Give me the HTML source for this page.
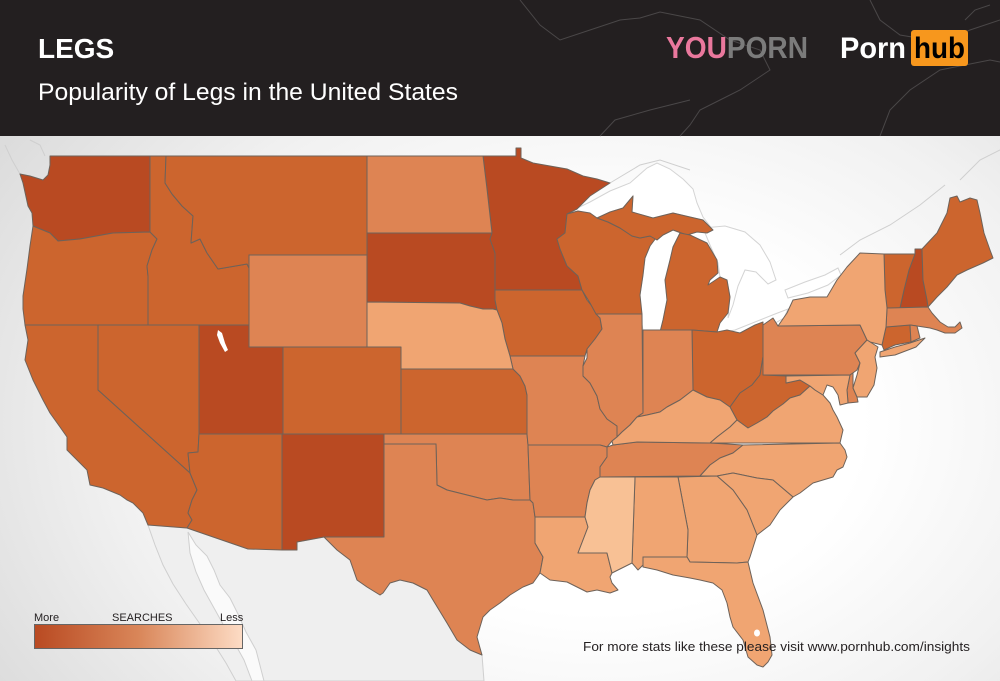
<!DOCTYPE html>
<html><head><meta charset="utf-8"><style>
html,body{margin:0;padding:0;}
body{width:1000px;height:681px;overflow:hidden;background:#fff;font-family:"Liberation Sans",sans-serif;}
#wrap{position:relative;width:1000px;height:681px;}
#map{position:absolute;left:0;top:0;width:1000px;height:681px;background:radial-gradient(ellipse 75% 80% at 60% 62%,#ffffff 35%,#f1f1f1 65%,#d8d8d8 100%);}
</style></head><body><div id="wrap"><div id="map"></div>
<svg style="position:absolute;left:0;top:0" width="1000" height="681" viewBox="0 0 1000 681" xmlns="http://www.w3.org/2000/svg">
<g fill="none" stroke="#cfcfcf" stroke-width="1">
<path fill="#efefef" d="M148,525 L187,528 L248,549 L283,549 L297,550 L297,542 L324,537 L337,550 L350,560 L357,580 L367,587 L380,595 L390,583 L400,580 L413,583 L427,590 L433,600 L447,623 L457,640 L470,650 L482,655 L484,681 L236,681 L226,663 L214,644 L200,624 L186,604 L173,584 L163,565 L155,545 Z"/>
<path fill="#fafafa" d="M188,532 L196,545 L207,556 L214,570 L220,585 L230,598 L238,614 L246,632 L256,650 L264,681 L252,681 L244,660 L234,642 L224,626 L214,608 L204,590 L196,572 L190,553 Z"/>
<path d="M20,174 L12,160 L5,145 M45,156 L40,145 L30,140 M610,183 L640,165 L660,160 L690,170 M840,255 L860,240 L890,225 L920,205 L945,185 M960,180 L980,160 L1000,150"/>
</g>
<g fill="#ffffff" stroke="#d4d4d4" stroke-width="1">
<path d="M567,213 L590,202 L610,191 L630,183 L647,168 L657,163 L670,169 L683,179 L693,189 L697,203 L703,217 L713,230 L703,220 L690,217 L673,213 L653,218 L632,212 L633,196 L623,208 L610,212 L597,218 L578,211 Z"/>
<path d="M640,238 L650,236 L657,240 L663,235 L673,230 L680,233 L673,247 L670,260 L665,280 L667,300 L663,320 L660,332 L650,334 L643,330 L640,314 L640,295 L643,275 L645,258 L650,246 Z"/>
<path d="M703,228 L725,226 L745,232 L760,245 L770,262 L776,280 L768,284 L756,272 L745,270 L738,286 L733,305 L728,318 L730,297 L727,280 L720,277 L718,263 L710,245 Z"/>
<path d="M718,333 L735,330 L755,322 L775,314 L788,309 L784,318 L770,326 L750,334 L733,338 Z"/>
<path d="M785,290 L805,282 L825,275 L838,268 L841,275 L828,285 L808,293 L788,298 Z"/>
</g>
<g stroke="#6e6259" stroke-width="1" stroke-linejoin="round">
<!-- dark -->
<g fill="#b94a22">
<path d="M50,156 L150,156 L150,232 L113,233 L80,239 L58,241 L50,233 L33,226 L32,213 L28,206 L23,183 L20,174 L30,176 L43,180 L48,175 L50,165 Z"/>
<path d="M199,325 L249,325 L249,347 L283,347 L283,434 L199,434 Z"/>
<path d="M367,233 L492,233 L490,239 L495,253 L495,300 L497,310 L493,309 L483,309 L470,306 L460,303 L367,302 Z"/>
<path d="M483,156 L516,156 L516,148 L521,148 L521,158 L533,163 L550,166 L567,169 L583,176 L597,179 L610,183 L590,196 L577,209 L567,214 L565,233 L557,239 L560,249 L567,266 L578,276 L582,290 L495,290 L495,253 L490,239 L492,233 L487,189 Z"/>
<path d="M282,434 L384,434 L384,537 L324,537 L297,542 L297,550 L282,550 Z"/>
<path d="M915,249 L922,249 L923,280 L927,300 L928,307 L900,308 L904,290 L909,270 L915,254 Z"/>
</g>
<!-- medium dark -->
<g fill="#cc652e">
<path d="M33,226 L50,233 L58,241 L80,239 L113,233 L150,232 L157,239 L152,250 L147,266 L148,276 L148,325 L25,325 L23,309 L23,296 L27,269 L30,246 Z"/>
<path d="M150,156 L166,156 L165,183 L172,194 L182,206 L193,216 L191,243 L200,239 L207,253 L218,269 L247,264 L249,268 L249,325 L148,325 L148,276 L147,266 L152,250 L157,239 L150,232 Z"/>
<path d="M166,156 L367,156 L367,255 L249,255 L249,268 L247,264 L218,269 L207,253 L200,239 L191,243 L193,216 L182,206 L172,194 L165,183 Z"/>
<path d="M98,325 L199,325 L199,434 L198,452 L188,453 L190,473 L98,390 Z"/>
<path d="M25,325 L98,325 L98,390 L190,473 L197,490 L192,500 L188,513 L192,520 L187,528 L148,525 L143,513 L133,503 L127,500 L120,495 L103,488 L90,485 L87,470 L80,463 L67,450 L67,437 L60,427 L50,413 L43,400 L33,380 L25,360 L28,340 Z"/>
<path d="M199,434 L282,434 L282,550 L248,549 L187,528 L192,520 L188,513 L192,500 L197,490 L190,473 L188,453 L198,452 Z"/>
<path d="M283,347 L401,347 L401,434 L283,434 Z"/>
<path d="M401,369 L513,369 L520,376 L525,386 L527,395 L527,434 L401,434 Z"/>
<path d="M495,290 L582,290 L587,300 L595,310 L600,318 L602,329 L595,339 L587,349 L585,356 L510,356 L505,339 L502,323 L497,310 L495,300 Z"/>
<path d="M567,214 L578,211 L590,213 L597,218 L608,222 L620,228 L632,236 L640,238 L650,236 L656,238 L650,246 L645,258 L643,275 L640,295 L642,314 L596,314 L590,303 L582,290 L578,276 L567,266 L560,249 L557,239 L565,233 Z"/>
<path d="M597,218 L610,212 L623,208 L633,196 L632,212 L653,218 L673,213 L690,217 L703,220 L713,230 L707,233 L697,232 L687,235 L673,230 L663,235 L657,240 L650,236 L640,238 L632,236 L620,228 L608,222 Z"/>
<path d="M680,233 L690,235 L707,243 L717,260 L718,273 L710,280 L708,285 L720,277 L727,280 L730,297 L728,313 L720,323 L717,332 L692,330 L660,332 L663,320 L667,300 L665,280 L670,260 L673,247 Z"/>
<path d="M692,330 L717,332 L727,330 L740,333 L755,325 L763,322 L763,357 L760,375 L752,385 L740,393 L730,407 L720,400 L707,397 L693,390 Z"/>
<path d="M730,407 L740,393 L752,385 L760,375 L763,357 L763,375 L786,376 L786,383 L800,380 L810,386 L800,395 L790,398 L783,404 L773,411 L767,417 L757,423 L748,428 L737,420 Z"/>
<path d="M884,254 L915,254 L909,270 L904,290 L900,308 L887,308 L885,290 Z"/>
<path d="M922,249 L937,233 L947,213 L950,198 L957,196 L960,202 L970,198 L977,200 L980,213 L984,233 L990,250 L993,258 L983,263 L967,270 L957,275 L947,287 L937,297 L928,307 L927,300 L923,280 Z"/>
<path d="M886,327 L910,325 L911,342 L895,345 L884,350 L882,345 Z"/>
</g>
<!-- medium -->
<g fill="#de8453">
<path d="M367,156 L483,156 L487,189 L492,233 L367,233 Z"/>
<path d="M249,255 L367,255 L367,347 L249,347 Z"/>
<path d="M384,434 L527,434 L528,445 L530,500 L513,500 L500,498 L487,500 L467,495 L447,490 L437,485 L436,444 L384,444 Z"/>
<path d="M384,444 L436,444 L437,485 L447,490 L467,495 L487,500 L500,498 L513,500 L530,500 L533,503 L535,517 L535,543 L543,557 L540,573 L533,583 L523,587 L510,595 L500,603 L490,610 L483,617 L480,627 L477,637 L480,648 L482,655 L470,650 L457,640 L447,623 L433,600 L427,590 L413,583 L400,580 L390,583 L383,593 L380,595 L367,587 L357,580 L350,560 L337,550 L324,537 L384,537 Z"/>
<path d="M510,356 L585,356 L583,366 L583,376 L590,383 L597,396 L600,409 L607,419 L617,426 L617,437 L612,441 L607,447 L600,445 L528,445 L527,434 L527,395 L525,386 L520,376 L513,369 Z"/>
<path d="M528,445 L600,445 L607,447 L607,457 L600,467 L600,477 L595,480 L590,490 L587,503 L585,517 L535,517 L533,503 L530,500 Z"/>
<path d="M596,314 L642,314 L643,413 L637,417 L630,425 L622,432 L617,437 L617,426 L607,419 L600,409 L597,396 L590,383 L583,376 L583,366 L587,358 L587,349 L595,339 L602,329 L600,318 Z"/>
<path d="M643,330 L692,330 L693,390 L680,400 L667,407 L660,412 L647,415 L637,417 L643,413 Z"/>
<path d="M607,447 L613,445 L637,442 L710,443 L743,445 L733,453 L720,458 L710,465 L700,476 L600,477 L600,467 L607,457 Z"/>
<path d="M763,325 L773,318 L778,326 L860,325 L867,340 L855,353 L860,363 L857,370 L850,375 L763,375 Z"/>
<path d="M887,308 L928,307 L932,313 L940,322 L948,327 L955,327 L960,322 L962,328 L955,333 L945,333 L937,330 L930,328 L917,326 L910,325 L886,327 Z"/>
<path d="M910,325 L917,326 L920,338 L911,342 Z"/>
<path d="M850,375 L853,373 L853,388 L857,397 L858,402 L848,403 L847,390 Z"/>
</g>
<!-- light -->
<g fill="#f0a572">
<path d="M367,302 L460,303 L470,306 L483,309 L493,309 L497,310 L502,323 L505,339 L510,356 L513,369 L401,369 L401,347 L367,347 Z"/>
<path d="M612,441 L617,437 L622,432 L630,425 L637,417 L647,415 L660,412 L667,407 L680,400 L693,390 L707,397 L720,400 L730,407 L737,420 L730,427 L717,437 L710,443 L637,442 L613,445 Z"/>
<path d="M710,443 L717,437 L730,427 L737,420 L748,428 L757,423 L767,417 L773,411 L783,404 L790,398 L800,395 L810,386 L815,390 L823,395 L830,403 L833,410 L837,417 L843,430 L840,443 Z"/>
<path d="M700,476 L710,465 L720,458 L733,453 L743,445 L840,443 L845,450 L847,457 L843,467 L837,470 L833,477 L813,483 L800,493 L793,497 L773,480 L757,478 L733,473 L717,476 Z"/>
<path d="M717,476 L733,473 L757,478 L773,480 L793,497 L780,510 L770,525 L757,535 L747,510 L733,490 Z"/>
<path d="M678,477 L717,476 L733,490 L747,510 L757,535 L750,557 L748,562 L737,563 L690,562 L687,557 L688,530 Z"/>
<path d="M635,477 L678,477 L688,530 L687,557 L643,557 L643,565 L638,570 L632,563 Z"/>
<path d="M643,557 L687,557 L690,562 L737,563 L748,562 L753,583 L763,610 L770,637 L772,655 L768,662 L763,667 L757,665 L748,657 L743,640 L733,627 L730,617 L727,603 L722,590 L713,583 L700,580 L690,578 L673,575 L657,570 L643,567 Z"/>
<path d="M535,517 L585,517 L588,527 L583,540 L578,553 L607,553 L612,573 L610,577 L612,583 L618,590 L610,593 L597,590 L587,592 L577,587 L567,582 L550,580 L540,573 L543,557 L535,543 Z"/>
<path d="M778,326 L787,313 L793,300 L810,297 L827,297 L837,280 L847,267 L860,253 L884,254 L885,290 L887,308 L886,327 L882,345 L870,342 L867,340 L860,325 Z"/>
<path d="M880,352 L895,347 L910,343 L925,338 L916,347 L895,355 L880,357 Z"/>
<path d="M867,340 L878,347 L875,357 L877,368 L874,385 L867,397 L857,397 L853,388 L857,375 L860,363 L855,353 Z"/>
<path d="M786,376 L850,375 L847,390 L848,403 L840,405 L838,395 L833,387 L827,385 L823,395 L815,390 L810,386 L800,380 L786,383 Z"/>
</g>
<path fill="#f8c195" d="M600,477 L635,477 L632,563 L622,568 L612,573 L607,553 L578,553 L583,540 L588,527 L585,517 L587,503 L590,490 L595,480 Z"/>
</g>
<path fill="#fff" d="M218,330 L222,333 L225,343 L228,350 L225,352 L220,343 L217,335 Z"/>
<ellipse cx="757" cy="633" rx="3" ry="3.5" fill="#fff"/>
<!-- header -->
<rect x="0" y="0" width="1000" height="136" fill="#231f20"/>
<g fill="none" stroke="#4a4748" stroke-width="1">
<path d="M520,0 L540,25 L560,40 L590,30 L620,20 L640,18 L660,12 L700,20 L730,40 L760,50 L770,70 L740,90 L720,100 L700,110 L690,125 L680,136"/>
<path d="M600,136 L615,120 L650,110 L690,100"/>
<path d="M870,0 L880,20 L900,35 L930,40 L950,38 L970,30 L1000,20"/>
<path d="M880,136 L890,110 L910,90 L940,70 L965,65 L990,60 L1000,62"/>
<path d="M965,20 L975,10 L990,5"/>
</g>
<text x="38" y="58" fill="#fff" font-family="Liberation Sans, sans-serif" font-weight="bold" font-size="28">LEGS</text>
<text x="38" y="100" fill="#fff" font-family="Liberation Sans, sans-serif" font-size="24.5" textLength="420" lengthAdjust="spacingAndGlyphs">Popularity of Legs in the United States</text>
<g font-family="Liberation Sans, sans-serif" font-weight="bold">
<text x="666" y="58" font-size="31" textLength="142" lengthAdjust="spacingAndGlyphs"><tspan fill="#ea789d">YOU</tspan><tspan fill="#7b7b7b">PORN</tspan></text>
<text x="840" y="58" fill="#fff" font-size="30" textLength="66" lengthAdjust="spacingAndGlyphs">Porn</text>
<rect x="911" y="30" width="57" height="36" rx="3" fill="#f7971d"/>
<text x="914" y="58" fill="#000" font-size="30" textLength="51" lengthAdjust="spacingAndGlyphs">hub</text>
</g>
<!-- legend -->
<defs><linearGradient id="lg" x1="0" x2="1" y1="0" y2="0"><stop offset="0" stop-color="#b94a22"/><stop offset="0.5" stop-color="#d98659"/><stop offset="1" stop-color="#fddcc5"/></linearGradient></defs>
<g font-family="Liberation Sans, sans-serif" font-size="11" fill="#231f20">
<text x="34" y="621">More</text>
<text x="112" y="621">SEARCHES</text>
<text x="220" y="621">Less</text>
</g>
<rect x="34.5" y="624.5" width="208" height="24" fill="url(#lg)" stroke="#666" stroke-width="1"/>
<text x="583" y="651" font-family="Liberation Sans, sans-serif" font-size="13" fill="#231f20" textLength="387" lengthAdjust="spacingAndGlyphs">For more stats like these please visit www.pornhub.com/insights</text>
</svg></div></body></html>
